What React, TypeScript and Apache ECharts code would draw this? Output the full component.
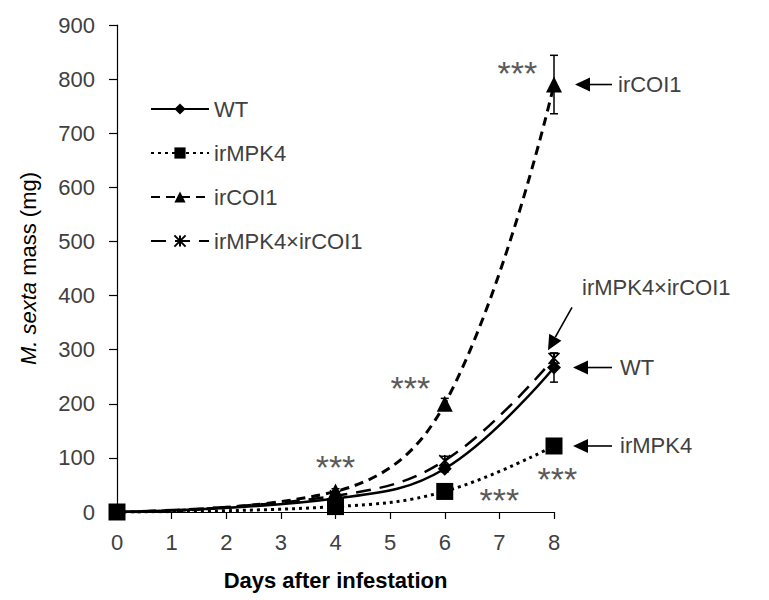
import React, { useEffect, useRef } from "react";
import * as echarts from "echarts";

const days = [0, 4, 6, 8];
const seriesNames = ["WT", "irMPK4", "irCOI1", "irMPK4×irCOI1"];
const wt = [0, 25, 80, 267];
const irMPK4 = [0, 10, 38, 122];
const irCOI1 = [0, 38, 200, 790];
const cross = [0, 30, 95, 284];
const errWT = [0, 3, 6, 27];
const errMPK4 = [0, 2, 4, 6];
const errCOI1 = [0, 5, 10, 54];
const errCross = [0, 3, 8, 9];
const xTicks = [0, 1, 2, 3, 4, 5, 6, 7, 8];
const yTicks = [0, 100, 200, 300, 400, 500, 600, 700, 800, 900];

// significance annotations [x, y] in data coordinates
const stars: [number, number][] = [
  [7.33, 820],
  [5.37, 238],
  [4.0, 92],
  [7.0, 31],
  [8.06, 71],
];

const FONT = "Liberation Sans, Arial, sans-serif";
const TXT = "#404040";

function pairs(vals: number[]) {
  return days.map((d, i) => [d, vals[i]]);
}
function errPairs(vals: number[], errs: number[]) {
  return days.map((d, i) => [d, vals[i], errs[i]]);
}

const starPath = "path://M0,0L10,10M10,0L0,10M5,0L5,10";

export default function App() {
  const ref = useRef<HTMLDivElement>(null);
  useEffect(() => {
    if (!ref.current) return;
    const chart = echarts.init(ref.current, undefined, { renderer: "svg" });
    const errSeries = (name: string, vals: number[], errs: number[]) => ({
      type: "custom",
      name: name + "-err",
      data: errPairs(vals, errs),
      encode: { x: 0, y: 1 },
      z: 1,
      silent: true,
      renderItem: (params: any, api: any) => {
        const x = api.value(0);
        const y = api.value(1);
        const e = api.value(2);
        const t = api.coord([x, y + e]);
        const b = api.coord([x, y - e]);
        const w = 4;
        const st = { stroke: "#000", lineWidth: 1.5 };
        return {
          type: "group",
          children: [
            { type: "line", shape: { x1: t[0], y1: t[1], x2: b[0], y2: b[1] }, style: st },
            { type: "line", shape: { x1: t[0] - w, y1: t[1], x2: t[0] + w, y2: t[1] }, style: st },
            { type: "line", shape: { x1: b[0] - w, y1: b[1], x2: b[0] + w, y2: b[1] }, style: st },
          ],
        };
      },
    });
    chart.setOption({
      animation: false,
      grid: { left: 109, right: 207, top: 17, bottom: 96, containLabel: false },
      legend: {
        orient: "vertical",
        left: 137,
        top: 85,
        itemWidth: 58,
        itemHeight: 14,
        itemGap: 22,
        data: seriesNames,
        textStyle: { fontFamily: FONT, fontSize: 22, color: TXT },
      },
      xAxis: {
        type: "value",
        min: 0,
        max: 8,
        interval: 1,
        name: "Days after infestation",
        nameLocation: "middle",
        nameGap: 57,
        nameTextStyle: { fontFamily: FONT, fontSize: 22, fontWeight: "bold", color: "#000" },
        axisLine: { lineStyle: { color: "#000", width: 1.2 } },
        axisTick: { length: 7, lineStyle: { color: "#000", width: 1.2 } },
        axisLabel: {
          fontFamily: FONT,
          fontSize: 22,
          color: TXT,
          margin: 19,
          formatter: (v: number) => (xTicks.includes(v) ? String(v) : ""),
        },
        splitLine: { show: false },
      },
      yAxis: {
        type: "value",
        min: 0,
        max: 900,
        interval: 100,
        name: "{i|M. sexta} mass (mg)",
        nameLocation: "middle",
        nameGap: 78,
        nameRotate: 90,
        nameTextStyle: {
          fontFamily: FONT,
          fontSize: 22,
          color: "#000",
          rich: { i: { fontFamily: FONT, fontSize: 22, fontStyle: "italic", color: "#000" } },
        },
        axisLine: { show: true, lineStyle: { color: "#000", width: 1.2 } },
        axisTick: { show: true, length: 8, lineStyle: { color: "#000", width: 1.2 } },
        axisLabel: {
          fontFamily: FONT,
          fontSize: 22,
          color: TXT,
          margin: 22,
          formatter: (v: number) => (yTicks.includes(v) ? String(v) : ""),
        },
        splitLine: { show: false },
      },
      series: [
        errSeries("WT", wt, errWT),
        errSeries("irMPK4", irMPK4, errMPK4),
        errSeries("irCOI1", irCOI1, errCOI1),
        errSeries("cross", cross, errCross),
        {
          type: "line",
          name: "WT",
          data: pairs(wt),
          smooth: 0.4,
          symbol: "diamond",
          symbolSize: 14,
          z: 4,
          lineStyle: { color: "#000", width: 2.5, type: "solid" },
          itemStyle: { color: "#000" },
        },
        {
          type: "line",
          name: "irMPK4",
          data: pairs(irMPK4),
          smooth: 0.4,
          symbol: "rect",
          symbolSize: 17,
          z: 3,
          lineStyle: { color: "#000", width: 3, type: [3, 4] },
          itemStyle: { color: "#000" },
        },
        {
          type: "line",
          name: "irCOI1",
          data: pairs(irCOI1),
          smooth: 0.4,
          symbol: "triangle",
          symbolSize: 16,
          z: 3,
          lineStyle: { color: "#000", width: 3, type: [9, 6] },
          itemStyle: { color: "#000" },
        },
        {
          type: "line",
          name: "irMPK4×irCOI1",
          data: pairs(cross),
          smooth: 0.4,
          symbol: starPath,
          symbolSize: 11,
          z: 3,
          lineStyle: { color: "#000", width: 2.5, type: [15, 9] },
          itemStyle: { color: "transparent", borderColor: "#000", borderWidth: 1.6 },
        },
      ],
    });

    const px = (x: number, y: number) => chart.convertToPixel({ gridIndex: 0 }, [x, y]) as number[];
    const graphics: any[] = [];
    stars.forEach(([x, y]) => {
      const p = px(x, y);
      graphics.push({
        type: "text",
        x: p[0],
        y: p[1] + 5,
        style: {
          text: "***",
          font: `34px ${FONT}`,
          fill: "#5a5a5a",
          align: "center",
          verticalAlign: "middle",
        },
      });
    });
    const arrow = (tx: number, ty: number, sx: number, sy: number) => {
      const dx = tx - sx;
      const dy = ty - sy;
      const len = Math.hypot(dx, dy);
      const ux = dx / len;
      const uy = dy / len;
      const hl = 15;
      const hw = 7;
      const bx = tx - ux * hl;
      const by = ty - uy * hl;
      graphics.push({
        type: "line",
        shape: { x1: sx, y1: sy, x2: bx, y2: by },
        style: { stroke: "#000", lineWidth: 1.6 },
      });
      graphics.push({
        type: "polygon",
        shape: {
          points: [
            [tx, ty],
            [bx - uy * hw, by + ux * hw],
            [bx + uy * hw, by - ux * hw],
          ],
        },
        style: { fill: "#000" },
      });
    };
    const label = (text: string, x: number, y: number) =>
      graphics.push({
        type: "text",
        x,
        y,
        style: { text, font: `22px ${FONT}`, fill: TXT, align: "left", verticalAlign: "middle" },
      });

    const pC = px(8, irCOI1[3]);
    arrow(pC[0] + 21, pC[1], pC[0] + 58, pC[1]);
    label("irCOI1", pC[0] + 64, pC[1]);
    const pW = px(8, wt[3]);
    arrow(pW[0] + 19, pW[1], pW[0] + 58, pW[1]);
    label("WT", pW[0] + 66, pW[1]);
    const pM = px(8, irMPK4[3]);
    arrow(pM[0] + 19, pM[1], pM[0] + 58, pM[1]);
    label("irMPK4", pM[0] + 66, pM[1]);
    const pX = px(8, cross[3]);
    arrow(pX[0] - 6, pX[1] - 8, pX[0] + 18, pX[1] - 51);
    label("irMPK4×irCOI1", pX[0] + 28, pX[1] - 71);

    chart.setOption({ graphic: graphics });

    return () => chart.dispose();
  }, []);
  return <div ref={ref} style={{ width: 753, height: 600 }} />;
}
